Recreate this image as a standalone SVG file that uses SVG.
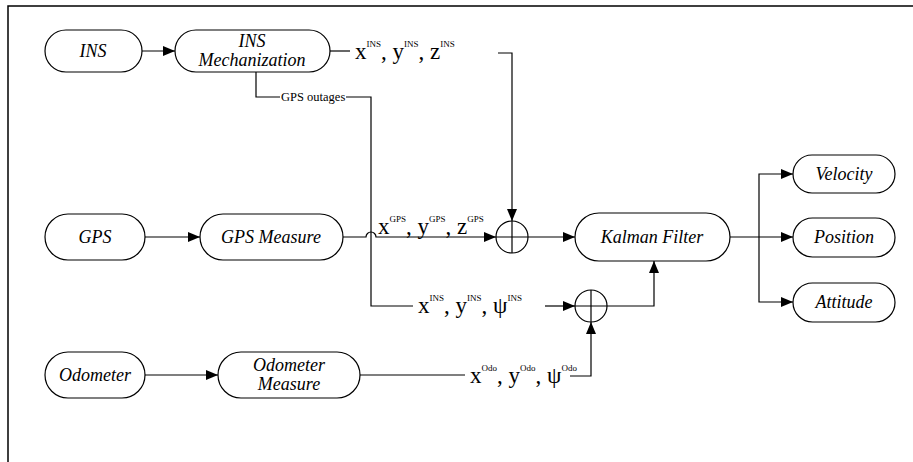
<svg xmlns="http://www.w3.org/2000/svg" width="913" height="462" viewBox="0 0 913 462">
<defs>
<marker id="ah" markerWidth="12" markerHeight="10" refX="12" refY="5" orient="auto" markerUnits="userSpaceOnUse">
<path d="M0,0 L12,5 L0,10 Z" fill="#000"/>
</marker>
</defs>
<rect width="913" height="462" fill="#fff"/>
<path d="M8,462 V6 H913" fill="none" stroke="#000" stroke-width="1.5"/>

<g id="connectors" fill="none" stroke="#000" stroke-width="1.2">
<path d="M142,51 H175" marker-end="url(#ah)"/>
<path d="M330,51 H350"/>
<path d="M498,53 H512 V221" marker-end="url(#ah)"/>
<path d="M256,72 V97 H280"/>
<path d="M346,97 H371 V306 H413"/>
<path d="M545,306 H575" marker-end="url(#ah)"/>
<path d="M145,237 H200" marker-end="url(#ah)"/>
<path d="M343,237 H366 A5,5 0 0 1 376,237 H496" marker-end="url(#ah)"/>
<path d="M528,237 H575" marker-end="url(#ah)"/>
<path d="M607,306 H654 V261" marker-end="url(#ah)"/>
<path d="M730,237 H793" marker-end="url(#ah)"/>
<path d="M759,237 V174 H793" marker-end="url(#ah)"/>
<path d="M759,237 V302 H793" marker-end="url(#ah)"/>
<path d="M145,375 H218" marker-end="url(#ah)"/>
<path d="M360,375 H465"/>
<path d="M570,376 H591 V322" marker-end="url(#ah)"/>
</g>

<g id="edge-labels" font-family="Liberation Serif, serif" fill="#000" stroke="none">
<text x="281" y="101" font-size="12.5">GPS outages</text>
<text x="355" y="59" font-size="23">x<tspan font-size="9" dy="-12">INS</tspan><tspan dy="12">, y</tspan><tspan font-size="9" dy="-12">INS</tspan><tspan dy="12">, z</tspan><tspan font-size="9" dy="-12">INS</tspan></text>
<text x="378" y="234" font-size="23">x<tspan font-size="9" dy="-12">GPS</tspan><tspan dy="12">, y</tspan><tspan font-size="9" dy="-12">GPS</tspan><tspan dy="12">, z</tspan><tspan font-size="9" dy="-12">GPS</tspan></text>
<text x="418" y="313" font-size="23">x<tspan font-size="9" dy="-12">INS</tspan><tspan dy="12">, y</tspan><tspan font-size="9" dy="-12">INS</tspan><tspan dy="12">, ψ</tspan><tspan font-size="9" dy="-12">INS</tspan></text>
<text x="470" y="383" font-size="23">x<tspan font-size="9" dy="-12">Odo</tspan><tspan dy="12">, y</tspan><tspan font-size="9" dy="-12">Odo</tspan><tspan dy="12">, ψ</tspan><tspan font-size="9" dy="-12">Odo</tspan></text>
</g>

<g id="sum1" fill="#fff" stroke="#000" stroke-width="1.2">
<circle cx="512" cy="237" r="16"/>
<path d="M496,237 H528 M512,221 V253" fill="none"/>
</g>
<g id="sum2" fill="#fff" stroke="#000" stroke-width="1.2">
<circle cx="591" cy="306" r="16"/>
<path d="M575,306 H607 M591,290 V322" fill="none"/>
</g>

<g font-family="Liberation Serif, serif" font-style="italic" font-size="18" text-anchor="middle">
<g id="ins"><rect x="45" y="30" width="97" height="42" rx="21" fill="#fff" stroke="#000" stroke-width="1.2"/><text x="93" y="57">INS</text></g>
<g id="insmech"><rect x="175" y="30" width="155" height="42" rx="21" fill="#fff" stroke="#000" stroke-width="1.2"/><text x="252" y="47">INS</text><text x="252" y="66">Mechanization</text></g>
<g id="gps"><rect x="45" y="214" width="100" height="46" rx="23" fill="#fff" stroke="#000" stroke-width="1.2"/><text x="95" y="243">GPS</text></g>
<g id="gpsmeas"><rect x="200" y="214" width="143" height="46" rx="23" fill="#fff" stroke="#000" stroke-width="1.2"/><text x="271" y="243">GPS Measure</text></g>
<g id="kalman"><rect x="575" y="213" width="155" height="48" rx="24" fill="#fff" stroke="#000" stroke-width="1.2"/><text x="652" y="243">Kalman Filter</text></g>
<g id="velocity"><rect x="793" y="155" width="102" height="38" rx="19" fill="#fff" stroke="#000" stroke-width="1.2"/><text x="844" y="180">Velocity</text></g>
<g id="position"><rect x="793" y="218" width="102" height="39" rx="19.5" fill="#fff" stroke="#000" stroke-width="1.2"/><text x="844" y="243">Position</text></g>
<g id="attitude"><rect x="793" y="283" width="102" height="39" rx="19.5" fill="#fff" stroke="#000" stroke-width="1.2"/><text x="844" y="308">Attitude</text></g>
<g id="odometer"><rect x="45" y="352" width="100" height="46" rx="23" fill="#fff" stroke="#000" stroke-width="1.2"/><text x="95" y="381">Odometer</text></g>
<g id="odomeas"><rect x="218" y="352" width="142" height="46" rx="23" fill="#fff" stroke="#000" stroke-width="1.2"/><text x="289" y="371">Odometer</text><text x="289" y="390">Measure</text></g>
</g>
</svg>
